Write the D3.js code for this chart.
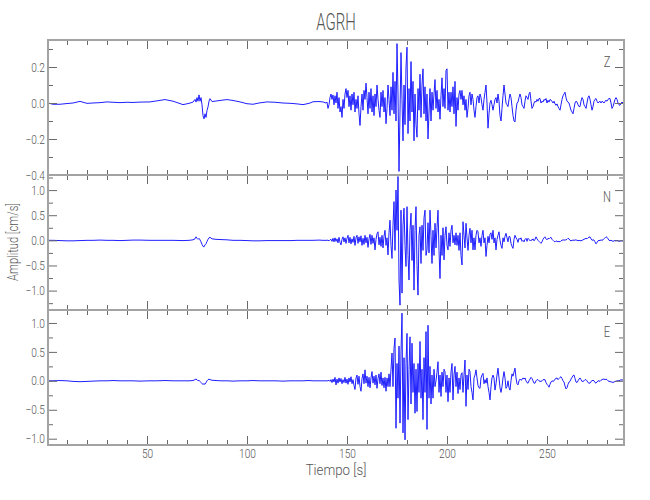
<!DOCTYPE html>
<html>
<head>
<meta charset="utf-8">
<script src="https://cdn.jsdelivr.net/npm/d3@7"></script>
<style>
  html, body { margin: 0; padding: 0; background: #fff; }
  svg text { font-family: Roboto, 'Liberation Sans', sans-serif; font-weight: 300; fill: #555; }
</style>
</head>
<body>
<svg id="chart" width="650" height="500"></svg>
<script>
// ---------------- DATA ----------------
const title = "AGRH";
const xLabel = "Tiempo [s]";
const yLabel = "Amplitud [cm/s]";
const components = ["Z", "N", "E"];
const xMajorTicks = [50, 100, 150, 200, 250];
const xMinorTicks = [10, 20, 30, 40, 60, 70, 80, 90, 110, 120, 130, 140, 160, 170, 180, 190, 210, 220, 230, 240, 260, 270, 280];
const zMajorTicks = [-0.4, -0.2, 0.0, 0.2];
const zMinorTicks = [-0.3, -0.1, 0.1, 0.3];
const nMajorTicks = [-1.0, -0.5, 0.0, 0.5, 1.0];
const nMinorTicks = [-1.25, -0.75, -0.25, 0.25, 0.75, 1.25];
const eMajorTicks = [-1.0, -0.5, 0.0, 0.5, 1.0];
const eMinorTicks = [-0.75, -0.25, 0.25, 0.75];
const zRange = [-0.4, 0.35];
const nRange = [-1.386, 1.30];
const eRange = [-1.109, 1.224];
const timeRange = [0.5, 288.5];

// quiet part (before the arrival), sampled at these times (s)
const quietTimes = [0.5,3,6.5,10,13,16.5,20,23,26.5,30, 33,36.5,40,43,46.5,51.5,55,59,63,68,
  71,73,74,74.5,75,75.5,76,76.5,77,77.5, 78,78.5,79,79.5,80,80.5,81,81.5,82.5,84.5,
  87,90,93,96.5,100,103,106,110,114,118, 122,125,128,131,133,136,138,139.5];
const zQuiet = [0.0,-0.007,-0.007,-0.003,0.0,0.009,-0.002,0.0,0.002,0.006, 0.004,0.002,0.004,0.003,0.005,0.006,0.012,0.019,0.01,-0.009,
  -0.002,0.005,0.02,0.005,0.03,0.01,0.045,0.01,0.03,-0.01, -0.07,-0.088,-0.06,-0.08,-0.041,-0.022,0.01,0.024,0.008,0.011,
  0.015,0.019,0.014,0.006,-0.004,-0.007,0.0,0.006,0.004,0.0, -0.002,-0.005,-0.009,-0.002,0.007,0.008,0.006,0.0];
const nQuiet = [0.0,0.0,-0.005,-0.01,-0.01,-0.005,0.0,0.0,0.005,0.0, 0.0,-0.005,0.0,0.005,0.005,0.0,0.0,0.0,0.0,-0.005,
  0.0,0.01,0.03,0.07,0.04,0.02,0.04,0.01,-0.03,-0.08, -0.12,-0.13,-0.09,-0.07,-0.02,0.02,0.05,0.06,0.03,0.02,
  0.015,0.01,0.0,0.0,-0.005,-0.01,-0.01,-0.005,-0.005,-0.005, -0.005,0.0,0.0,0.0,0.0,0.005,0.0,0.0];
const eQuiet = [0.0,0.0,0.005,0.0,-0.01,-0.015,-0.01,-0.005,0.0,0.0, 0.005,0.0,0.0,0.0,-0.005,0.0,0.0,0.005,0.0,0.0,
  0.0,0.005,0.02,0.03,0.02,0.0,0.01,-0.01,-0.03,-0.05, -0.06,-0.05,-0.06,-0.03,0.0,0.02,0.03,0.02,0.01,0.005,
  0.0,0.0,-0.005,0.0,0.0,0.005,0.0,0.0,0.0,-0.005, 0.0,0.0,0.0,0.005,0.0,0.0,0.0,0.0];

// strong-motion part: samples every 0.5 s starting at 140 s
const activeStart = 140;
const activeStep = 0.5;
const zActive = [
  0.005,-0.03,-0.01,0.03,0.05,0.02,0.045,-0.01,0.04,0.0,0.06,-0.03,0.03,-0.05,-0.02,-0.08,0.02,-0.03,0.05,0.08,
  0.03,0.07,-0.02,0.04,-0.04,0.05,-0.01,0.06,-0.05,0.02,-0.03,0.04,-0.06,-0.125,-0.02,0.05,-0.04,0.07,0.02,0.11,
  0.03,-0.06,0.06,-0.03,0.08,-0.05,0.04,-0.07,0.05,-0.02,0.1,0.02,-0.04,-0.08,0.06,-0.02,0.07,-0.05,0.03,-0.115,
  -0.03,0.1,0.02,-0.07,0.09,-0.04,0.17,-0.06,0.12,-0.1,0.33,0.05,-0.38,-0.05,0.28,0.02,-0.21,0.1,-0.12,0.2,
  0.31,-0.17,0.08,-0.1,0.23,-0.05,0.12,-0.21,0.05,-0.12,-0.19,0.08,-0.04,0.16,-0.08,0.1,0.19,-0.06,0.09,-0.1,
  0.05,-0.2,-0.05,0.08,-0.1,0.06,-0.04,0.05,0.13,-0.03,0.07,-0.05,0.02,-0.09,0.04,0.14,-0.02,0.08,-0.03,0.18,
  0.19,-0.04,0.06,-0.05,0.06,-0.02,0.09,-0.06,0.12,-0.13,0.03,-0.04,0.05,0.07,0.02,0.07,-0.01,0.04,-0.04,0.02,
  -0.08,-0.03,0.04,0.06,-0.01,0.05,0.02,-0.04,-0.08,-0.02,0.03,0.04,0.0,0.05,0.03,-0.01,-0.04,0.02,0.06,0.1,
  0.0,-0.14,-0.06,0.0,0.015,-0.01,-0.04,-0.01,0.02,0.03,0.0,0.05,0.01,-0.07,-0.1,-0.03,0.04,0.1,0.05,0.0,
  -0.01,-0.02,0.02,0.05,0.03,-0.02,-0.07,-0.1,-0.105,-0.04,0.0,0.005,0.03,0.05,0.03,-0.01,-0.02,-0.03,0.01,0.04,
  0.03,0.02,0.05,0.06,0.01,-0.03,-0.02,0.0,0.01,0.005,0.02,0.01,0.025,0.025,0.0,0.01,0.005,0.02,0.015,0.025,
  0.0,0.015,0.005,0.02,0.015,0.01,0.0,0.01,-0.005,-0.013,-0.005,-0.02,-0.03,-0.04,-0.01,0.02,0.04,0.05,0.06,0.03,
  0.01,0.005,0.0,-0.02,-0.04,-0.05,-0.06,-0.03,0.0,0.01,0.005,-0.01,-0.02,-0.02,0.01,0.03,0.02,-0.01,-0.02,-0.03,
  0.0,0.03,0.04,0.02,-0.01,-0.04,-0.02,0.01,0.02,0.025,0.01,0.0,0.005,0.01,0.0,0.01,0.005,0.0,0.01,0.015,
  0.01,0.02,0.025,0.025,0.0,-0.03,-0.02,0.0,0.02,0.03,0.02,0.0,-0.01,-0.013,0.0,0.005,0.0];
const nActive = [
  0.0,0.005,-0.01,0.01,0.02,-0.02,0.04,-0.03,0.05,-0.02,0.03,-0.05,0.06,-0.04,-0.09,0.02,0.07,-0.03,0.05,-0.06,
  0.04,0.1,-0.05,0.06,-0.07,0.03,-0.04,0.08,-0.1,0.05,0.1,-0.06,0.07,-0.03,0.09,-0.1,0.04,-0.08,0.1,-0.05,
  0.06,-0.14,0.03,0.12,-0.08,0.1,-0.06,0.05,-0.19,0.02,0.13,0.17,-0.09,0.06,-0.12,0.1,-0.15,0.08,0.2,-0.1,
  0.05,-0.29,0.15,0.4,-0.1,-0.36,0.3,0.77,-0.2,1.0,0.2,1.27,-0.79,-1.29,0.6,-1.05,0.3,0.64,-0.1,-0.52,
  0.67,-0.3,-0.79,0.2,0.54,-0.4,0.3,-0.99,0.2,0.67,-0.5,-1.09,0.1,0.27,-0.46,0.3,-0.2,0.45,0.6,-0.3,
  -0.19,0.35,-0.25,0.6,0.1,-0.46,0.2,-0.3,0.34,-0.15,0.25,0.6,-0.2,-0.76,0.1,-0.3,0.25,-0.39,0.1,0.27,
  -0.1,-0.19,0.15,-0.12,0.2,0.3,-0.05,0.1,-0.09,0.15,-0.1,0.1,-0.2,0.15,-0.3,-0.49,0.37,0.1,-0.15,0.34,
  0.05,-0.2,0.1,0.24,-0.05,0.2,-0.19,0.05,-0.19,0.1,0.2,0.17,-0.05,0.05,-0.12,0.1,0.2,-0.05,0.05,-0.32,
  -0.1,0.08,-0.05,0.12,0.15,0.02,0.2,-0.05,0.05,-0.19,0.02,0.1,0.17,0.0,-0.1,-0.16,0.05,-0.03,0.08,0.14,
  0.05,-0.03,0.08,0.07,-0.06,-0.12,-0.16,0.02,0.1,0.05,0.02,-0.04,0.04,0.02,0.05,-0.02,0.0,-0.03,0.02,0.04,
  -0.02,0.04,0.02,-0.01,0.01,0.0,0.03,-0.01,0.02,0.07,0.03,0.0,-0.02,-0.04,-0.06,-0.03,0.02,0.05,0.07,0.03,
  0.01,0.04,0.03,0.05,0.06,0.02,0.0,-0.02,-0.03,-0.01,-0.02,-0.03,-0.02,-0.03,-0.01,0.0,0.01,0.005,0.005,0.01,
  0.02,0.04,0.03,0.0,-0.01,0.0,0.005,0.0,0.005,0.01,0.0,-0.01,0.0,-0.005,-0.01,0.0,0.01,0.02,0.03,0.04,
  0.03,0.05,0.06,0.07,0.03,0.0,0.01,0.005,-0.03,-0.07,-0.04,-0.01,0.0,-0.005,0.01,0.0,0.01,0.03,0.05,0.07,
  0.06,0.03,0.0,-0.005,0.0,-0.01,-0.02,-0.01,-0.005,-0.01,0.0,-0.01,-0.02,-0.015,-0.01,-0.01,-0.01];
const eActive = [
  0.0,0.0,0.01,-0.01,0.02,-0.03,0.03,-0.02,0.06,-0.07,0.03,-0.04,0.05,-0.02,0.04,-0.05,0.02,-0.03,0.06,-0.04,
  0.03,-0.06,0.05,-0.02,0.07,-0.05,0.02,-0.08,-0.15,0.05,0.1,-0.06,0.08,-0.1,-0.18,0.04,0.12,-0.05,0.19,-0.04,
  0.08,-0.1,0.06,-0.12,0.05,0.16,-0.04,0.08,-0.07,0.1,-0.13,0.04,0.12,-0.05,0.15,-0.08,0.05,-0.12,0.06,-0.18,
  0.05,-0.1,0.12,-0.1,0.2,0.48,-0.1,0.56,0.74,-0.82,0.3,-0.3,0.6,-0.73,0.5,1.17,-0.9,0.4,-1.02,0.3,
  0.82,-0.67,0.2,0.76,-0.4,0.65,-0.2,0.3,-0.56,0.2,-0.53,0.3,-0.2,0.68,-0.3,0.2,-0.67,0.4,-0.2,0.85,
  -0.84,0.96,-0.3,0.25,-0.4,0.1,-0.3,0.2,-0.1,0.0,0.15,0.33,-0.2,0.1,-0.27,0.15,-0.1,0.2,0.16,-0.2,
  0.1,-0.36,0.05,-0.2,0.15,0.3,-0.33,0.1,0.25,-0.1,0.15,-0.22,0.05,-0.15,0.1,0.14,-0.2,0.1,0.36,-0.44,
  0.1,-0.15,0.2,0.16,-0.1,-0.2,-0.33,0.05,0.1,0.19,0.05,-0.08,-0.12,-0.13,0.05,0.1,0.13,-0.05,0.02,-0.04,
  0.05,-0.1,-0.2,-0.33,-0.1,0.05,0.1,0.05,-0.16,-0.05,0.1,0.22,0.05,-0.12,-0.2,-0.1,0.05,0.16,0.05,-0.13,
  -0.1,0.0,-0.12,-0.16,0.0,0.12,0.08,0.15,0.22,0.05,-0.05,-0.07,0.0,0.03,0.01,0.02,0.05,0.03,0.05,0.0,
  -0.03,-0.04,0.0,0.03,0.06,0.04,0.0,-0.04,-0.04,0.0,0.02,0.02,0.0,-0.01,-0.01,0.0,0.02,0.02,0.02,-0.03,
  -0.06,-0.08,-0.11,-0.06,-0.02,0.0,-0.01,0.0,0.03,0.04,0.05,0.02,0.04,0.06,0.07,0.04,0.0,-0.02,-0.09,-0.14,
  -0.12,-0.06,-0.02,-0.01,0.03,0.06,0.09,0.1,0.04,-0.02,-0.03,0.0,0.03,0.05,0.02,-0.01,-0.01,0.0,0.02,0.02,
  0.0,-0.03,-0.04,-0.04,-0.01,0.0,0.01,0.0,-0.03,-0.04,-0.02,0.0,0.0,-0.01,0.01,0.02,0.03,0.03,0.02,0.03,
  0.02,0.0,-0.01,-0.01,-0.02,-0.02,-0.03,-0.02,-0.01,-0.01,0.0,0.0,0.0,0.01,0.02,0.01,0.02];

// ---------------- LAYOUT ----------------
const svg = d3.select("#chart");
const left = 48, right = 624;
const panelTops = [40, 175, 310];
const panelH = 135;
const frameColor = "#a3a3a3";
const tickColor = "#6a6a6a";
const traceColor = "#1f1fff";

const x = d3.scaleLinear().domain(timeRange).range([left, right]);

function buildSeries(quiet, active) {
  const pts = quietTimes.map((t, i) => [t, quiet[i]]);
  active.forEach((v, i) => pts.push([activeStart + i * activeStep, v]));
  return pts;
}

const panels = [
  { name: components[0], range: zRange, major: zMajorTicks, minor: zMinorTicks, data: buildSeries(zQuiet, zActive) },
  { name: components[1], range: nRange, major: nMajorTicks, minor: nMinorTicks, data: buildSeries(nQuiet, nActive) },
  { name: components[2], range: eRange, major: eMajorTicks, minor: eMinorTicks, data: buildSeries(eQuiet, eActive) }
];

const fmtY = v => d3.format(".1f")(v).replace("-", "\u2212");

panels.forEach((p, k) => {
  const top = panelTops[k], bottom = top + panelH;
  const y = d3.scaleLinear().domain(p.range).range([bottom, top]);
  const g = svg.append("g");

  const clipId = "clip" + k;
  svg.append("clipPath").attr("id", clipId)
    .append("rect").attr("x", left).attr("y", top).attr("width", right - left).attr("height", panelH);

  // trace
  g.append("path")
    .datum(p.data)
    .attr("clip-path", `url(#${clipId})`)
    .attr("fill", "none")
    .attr("stroke", traceColor)
    .attr("stroke-width", 1)
    .attr("stroke-linejoin", "round")
    .attr("d", d3.line().x(d => x(d[0])).y(d => y(d[1])));

  // axes (ticks inward)
  const styleAxis = sel => {
    sel.select(".domain").remove();
    sel.selectAll(".tick line").attr("stroke", tickColor);
    sel.selectAll(".tick text").attr("fill", "#555").style("font-size", "13px")
      .attr("transform", "scale(0.78,1)");
  };
  const isLast = k === panels.length - 1;
  g.append("g").attr("transform", `translate(0,${bottom})`)
    .call(d3.axisBottom(x).tickValues(xMajorTicks).tickSize(-9).tickPadding(4)
      .tickFormat(isLast ? d3.format("d") : () => ""))
    .call(styleAxis);
  g.append("g").attr("transform", `translate(0,${bottom})`)
    .call(d3.axisBottom(x).tickValues(xMinorTicks).tickSize(-5).tickFormat(() => ""))
    .call(styleAxis);
  g.append("g").attr("transform", `translate(0,${top})`)
    .call(d3.axisTop(x).tickValues(xMajorTicks).tickSize(-9).tickFormat(() => ""))
    .call(styleAxis);
  g.append("g").attr("transform", `translate(0,${top})`)
    .call(d3.axisTop(x).tickValues(xMinorTicks).tickSize(-5).tickFormat(() => ""))
    .call(styleAxis);
  g.append("g").attr("transform", `translate(${left},0)`)
    .call(d3.axisLeft(y).tickValues(p.major).tickSize(-9).tickPadding(4).tickFormat(fmtY))
    .call(styleAxis);
  g.append("g").attr("transform", `translate(${left},0)`)
    .call(d3.axisLeft(y).tickValues(p.minor).tickSize(-5).tickFormat(() => ""))
    .call(styleAxis);
  g.append("g").attr("transform", `translate(${right},0)`)
    .call(d3.axisRight(y).tickValues(p.major).tickSize(-9).tickFormat(() => ""))
    .call(styleAxis);
  g.append("g").attr("transform", `translate(${right},0)`)
    .call(d3.axisRight(y).tickValues(p.minor).tickSize(-5).tickFormat(() => ""))
    .call(styleAxis);

  // frame
  g.append("rect")
    .attr("x", left).attr("y", top).attr("width", right - left).attr("height", panelH)
    .attr("fill", "none").attr("stroke", frameColor).attr("stroke-width", 2);

  // component label
  g.append("text")
    .attr("transform", `translate(607,${top + 27}) scale(0.8,1)`)
    .attr("text-anchor", "middle")
    .style("font-size", "14px")
    .text(p.name);
});

// title & axis labels
svg.append("text").attr("transform", `translate(${(left + right) / 2},30) scale(0.65,1)`)
  .attr("text-anchor", "middle").style("font-size", "23px").text(title);
svg.append("text").attr("transform", `translate(${(left + right) / 2},475) scale(0.95,1)`)
  .attr("text-anchor", "middle").style("font-size", "14px").text(xLabel);
svg.append("text").attr("transform", "translate(18,242) rotate(-90) scale(0.8,1)")
  .attr("text-anchor", "middle").style("font-size", "14px").text(yLabel);
</script>
</body>
</html>
